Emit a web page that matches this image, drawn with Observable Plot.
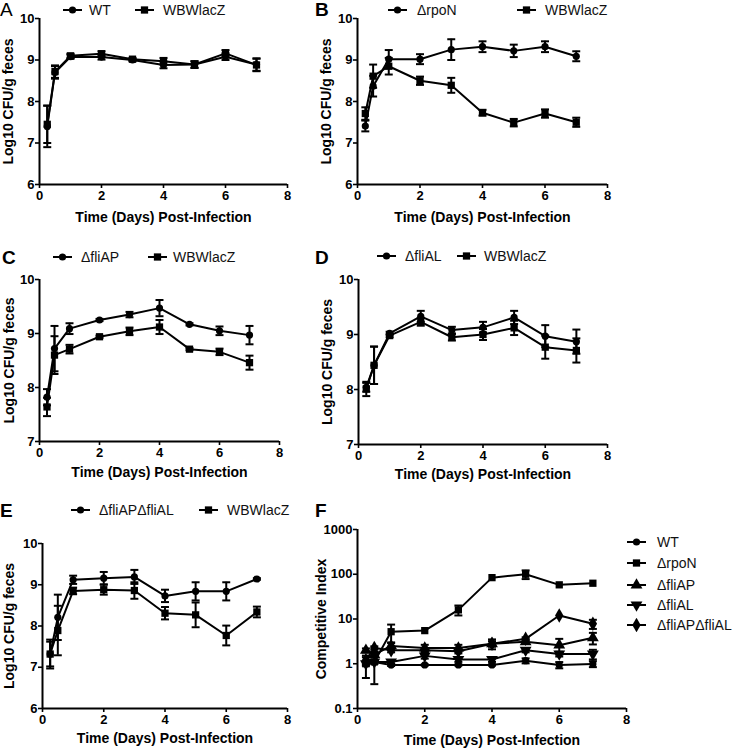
<!DOCTYPE html>
<html><head><meta charset="utf-8">
<script src="https://cdn.jsdelivr.net/npm/d3@7"></script>
<script src="https://cdn.jsdelivr.net/npm/@observablehq/plot@0.6"></script>
<style>
body{margin:0;background:#fff;}
#fig{position:relative;width:733px;height:751px;font-family:"Liberation Sans",Arial,sans-serif;color:#000;overflow:hidden;}
.pn{position:absolute;}
.letter{position:absolute;font-weight:bold;font-size:19px;line-height:19px;}
.legtxt{position:absolute;font-size:14px;height:16px;display:flex;align-items:center;white-space:nowrap;color:#111;}
.legsw{position:absolute;}
</style></head><body><div id="fig"></div>
<script>
// ---------- data ----------
const days = [0.25, 0.5, 1, 2, 3, 4, 5, 6, 7];
const xTicks = [0, 2, 4, 6, 8];
const xTitle = "Time (Days) Post-Infection";
const yTitleCFU = "Log10 CFU/g feces";
const yTitleCI = "Competitive Index";

// Panel A
const aWT      = [7.40, 8.70, 9.08, 9.07, 9.00, 8.88, 8.89, 9.08, 8.89];
const aWTerr   = [0.50, 0.15, 0.05, 0.06, 0.03, 0.08, 0.08, 0.08, 0.15];
const aLacZ    = [7.45, 8.72, 9.10, 9.15, 9.02, 8.97, 8.89, 9.16, 8.88];
const aLacZerr = [0.45, 0.15, 0.05, 0.06, 0.03, 0.08, 0.08, 0.08, 0.15];
// Panel B
const bRpoN    = [7.41, 8.37, 9.02, 9.02, 9.25, 9.32, 9.22, 9.32, 9.09];
const bRpoNerr = [0.13, 0.25, 0.22, 0.12, 0.25, 0.13, 0.15, 0.13, 0.12];
const bLacZ    = [7.71, 8.61, 8.85, 8.50, 8.39, 7.73, 7.49, 7.71, 7.50];
const bLacZerr = [0.15, 0.28, 0.20, 0.10, 0.18, 0.07, 0.09, 0.10, 0.11];
// Panel C
const cFliAP    = [7.82, 8.72, 9.09, 9.25, 9.35, 9.47, 9.17, 9.05, 8.97];
const cFliAPerr = [0.15, 0.42, 0.10, 0.02, 0.05, 0.15, 0.02, 0.08, 0.17];
const cLacZ     = [7.64, 8.60, 8.71, 8.94, 9.04, 9.12, 8.71, 8.66, 8.46];
const cLacZerr  = [0.17, 0.35, 0.08, 0.02, 0.07, 0.13, 0.02, 0.06, 0.13];
// Panel D
const dFliAL    = [8.04, 8.44, 9.02, 9.33, 9.08, 9.13, 9.31, 8.97, 8.87];
const dFliALerr = [0.08, 0.34, 0.03, 0.10, 0.06, 0.10, 0.12, 0.20, 0.22];
const dLacZ     = [8.01, 8.44, 8.98, 9.23, 8.95, 9.00, 9.12, 8.77, 8.71];
const dLacZerr  = [0.13, 0.34, 0.03, 0.07, 0.06, 0.10, 0.13, 0.21, 0.22];
// Panel E
const eDbl     = [7.32, 8.21, 9.12, 9.16, 9.19, 8.73, 8.84, 8.84, 9.14];
const eDblerr  = [0.35, 0.55, 0.10, 0.15, 0.17, 0.15, 0.22, 0.22, 0.02];
const eLacZ    = [7.32, 7.89, 8.85, 8.88, 8.86, 8.31, 8.27, 7.77, 8.34];
const eLacZerr = [0.30, 0.60, 0.08, 0.12, 0.20, 0.15, 0.30, 0.24, 0.13];
// Panel F (competitive index, linear values)
const fWT       = [1.05, 1.10, 0.94, 0.94, 0.94, 0.94, 1.17, 0.94, 0.99];
const fWTerr    = [0.10, 0.10, 0.05, 0.03, 0.03, 0.03, 0.15, 0.15, 0.15];
const fRpoN     = [1.00, 1.10, 5.2, 5.5, 16, 84, 100, 58, 63];
const fRpoNerr  = [0.52, 0.75, 2.3, 0, 4, 0, 22, 0, 0];
const fFliAP    = [2.0, 1.6, 2.5, 2.25, 2.25, 2.8, 3.1, 2.6, 3.8];
const fFliAPerr = [0.2, 0.2, 0.5, 0.4, 0.4, 0.7, 0.3, 1.0, 1.1];
const fFliAL    = [1.0, 1.1, 1.1, 1.5, 1.25, 1.25, 2.0, 1.65, 1.65];
const fFliALerr = [0.1, 0.1, 0.1, 0.2, 0.15, 0.15, 0.2, 0.2, 0.4];
const fDbl      = [1.2, 2.25, 2.0, 2.0, 1.9, 2.8, 3.6, 12, 7.8];
const fDblerr   = [0.2, 0.2, 0.2, 0.2, 0.2, 0.4, 0.3, 0, 1.8];

// ---------- symbols ----------
const sqrt3 = Math.sqrt(3);
const invTriangle = {draw(ctx, size) {
  const y = -Math.sqrt(size / (sqrt3 * 3));
  ctx.moveTo(0, -y * 2); ctx.lineTo(-sqrt3 * y, y); ctx.lineTo(sqrt3 * y, y); ctx.closePath();
}};
const capSym = {draw(ctx, size) {
  const w = Math.sqrt(size) / 2; ctx.moveTo(-w, 0); ctx.lineTo(w, 0);
}};
const SYM = {
  circle: {plot: "circle", d3: d3.symbolCircle, r: 3.6},
  square: {plot: "square", d3: d3.symbolSquare, r: 4.1},
  triangle: {plot: "triangle", d3: d3.symbolTriangle, r: 4.4},
  inv: {plot: invTriangle, d3: invTriangle, r: 4.4},
  diamond: {plot: "diamond", d3: d3.symbolDiamond, r: 4.4}
};

const fig = document.getElementById("fig");
const xDomain = [0, 8];

function panel(o) {
  const rows = o.series.flatMap(s => s.values.map((v, i) => ({name: s.name, x: days[i], y: v, err: s.err[i]})));
  const errRows = rows.filter(d => d.err > 0);
  const caps = errRows.flatMap(d => [{x: d.x, y: d.y - d.err}, {x: d.x, y: d.y + d.err}]);
  const marks = [
    Plot.ruleX([xDomain[0]], {y1: o.yDomain[0], y2: o.yDomain[1], strokeWidth: 2}),
    Plot.ruleY([o.yDomain[0]], {x1: xDomain[0], x2: xDomain[1], strokeWidth: 2}),
    Plot.axisX({ticks: xTicks, tickSize: 4, tickPadding: 2, label: null, strokeWidth: 1.6}),
    Plot.axisY({ticks: o.yTicks, tickSize: 4, tickPadding: 1, label: null, strokeWidth: 1.6, tickFormat: d => String(d)}),
    Plot.text([xTitle], {frameAnchor: "bottom", text: d => d, dy: o.xdy, fontSize: 14, textAnchor: "middle", lineAnchor: "middle"}),
    Plot.text([o.yTitle], {frameAnchor: "left", text: d => d, dx: o.ydx, rotate: -90, fontSize: 14, textAnchor: "middle", lineAnchor: "middle"}),
    Plot.line(rows, {x: "x", y: "y", z: "name", stroke: "black", strokeWidth: 2}),
    Plot.ruleX(errRows, {x: "x", y1: d => d.y - d.err, y2: d => d.y + d.err, strokeWidth: 2}),
    Plot.dot(caps, {x: "x", y: "y", symbol: capSym, r: 4.5, stroke: "black", strokeWidth: 2, fill: "none"}),
    ...o.series.map(s => Plot.dot(rows.filter(d => d.name === s.name),
      {x: "x", y: "y", symbol: SYM[s.sym].plot, r: SYM[s.sym].r, fill: "black", stroke: "none"}))
  ];
  const svg = Plot.plot({
    width: o.width, height: o.height,
    marginLeft: o.mL, marginRight: o.mR, marginTop: o.mT, marginBottom: o.mB,
    x: {domain: xDomain},
    y: {type: o.yType || "linear", domain: o.yDomain},
    style: {fontFamily: '"Liberation Sans", Arial, sans-serif', fontSize: "13px", fontWeight: "bold", color: "black", background: "transparent", overflow: "visible"},
    marks
  });
  const wrap = document.createElement("div");
  wrap.className = "pn";
  wrap.style.left = o.left + "px"; wrap.style.top = o.top + "px";
  wrap.appendChild(svg);
  fig.appendChild(wrap);

  const L = document.createElement("div");
  L.className = "letter"; L.textContent = o.letter;
  L.style.left = o.lx + "px"; L.style.top = o.ly + "px";
  if (o.letterNormal) L.style.fontWeight = "normal";
  fig.appendChild(L);

  o.legend.forEach(g => {
    const s = o.series[g.idx];
    addLegend(g.lx, g.tx, g.y, s.sym, s.name);
  });
}

function addLegend(lx, tx, cy, sym, label) {
  const ns = "http://www.w3.org/2000/svg";
  const sv = document.createElementNS(ns, "svg");
  sv.setAttribute("width", 19); sv.setAttribute("height", 14);
  sv.setAttribute("class", "legsw");
  sv.style.left = lx + "px"; sv.style.top = (cy - 7) + "px";
  const ln = document.createElementNS(ns, "line");
  ln.setAttribute("x1", 0); ln.setAttribute("x2", 19); ln.setAttribute("y1", 7); ln.setAttribute("y2", 7);
  ln.setAttribute("stroke", "black"); ln.setAttribute("stroke-width", 2);
  sv.appendChild(ln);
  const p = document.createElementNS(ns, "path");
  const r = SYM[sym].r;
  p.setAttribute("d", d3.symbol(SYM[sym].d3, Math.PI * r * r)());
  p.setAttribute("transform", "translate(9.5,7)");
  sv.appendChild(p);
  fig.appendChild(sv);
  const t = document.createElement("div");
  t.className = "legtxt"; t.textContent = label;
  t.style.left = tx + "px"; t.style.top = (cy - 8) + "px";
  fig.appendChild(t);
}

// ---------- panels ----------
panel({letter: "A", letterNormal: true, lx: 0, ly: 0,
  left: 0, top: 0, width: 310, height: 240, mL: 39, mR: 23, mT: 18, mB: 56,
  yDomain: [6, 10], yTicks: [6, 7, 8, 9, 10], yTitle: yTitleCFU, xdy: 33, ydx: -31,
  series: [{name: "WT", values: aWT, err: aWTerr, sym: "circle"},
           {name: "WBWlacZ", values: aLacZ, err: aLacZerr, sym: "square"}],
  legend: [{idx: 0, lx: 63, tx: 89, y: 10}, {idx: 1, lx: 135, tx: 163, y: 10}]});

panel({letter: "B", lx: 315, ly: 0,
  left: 310, top: 0, width: 423, height: 240, mL: 47, mR: 126, mT: 18, mB: 56,
  yDomain: [6, 10], yTicks: [6, 7, 8, 9, 10], yTitle: yTitleCFU, xdy: 33, ydx: -31,
  series: [{name: "ΔrpoN", values: bRpoN, err: bRpoNerr, sym: "circle"},
           {name: "WBWlacZ", values: bLacZ, err: bLacZerr, sym: "square"}],
  legend: [{idx: 0, lx: 388, tx: 417, y: 10}, {idx: 1, lx: 517, tx: 545, y: 10}]});

panel({letter: "C", lx: 2, ly: 248,
  left: 0, top: 245, width: 310, height: 245, mL: 39, mR: 31, mT: 34, mB: 49,
  yDomain: [7, 10], yTicks: [7, 8, 9, 10], yTitle: yTitleCFU, xdy: 31, ydx: -30,
  series: [{name: "ΔfliAP", values: cFliAP, err: cFliAPerr, sym: "circle"},
           {name: "WBWlacZ", values: cLacZ, err: cLacZerr, sym: "square"}],
  legend: [{idx: 0, lx: 53, tx: 81, y: 257}, {idx: 1, lx: 148, tx: 173, y: 257}]});

panel({letter: "D", lx: 315, ly: 248,
  left: 310, top: 245, width: 423, height: 245, mL: 48, mR: 126, mT: 34, mB: 46,
  yDomain: [7, 10], yTicks: [7, 8, 9, 10], yTitle: yTitleCFU, xdy: 30, ydx: -31,
  series: [{name: "ΔfliAL", values: dFliAL, err: dFliALerr, sym: "circle"},
           {name: "WBWlacZ", values: dLacZ, err: dLacZerr, sym: "square"}],
  legend: [{idx: 0, lx: 377, tx: 405, y: 256}, {idx: 1, lx: 457, tx: 484, y: 256}]});

panel({letter: "E", lx: 0, ly: 501,
  left: 0, top: 490, width: 310, height: 261, mL: 42, mR: 23, mT: 53, mB: 43,
  yDomain: [6, 10], yTicks: [6, 7, 8, 9, 10], yTitle: yTitleCFU, xdy: 30, ydx: -33,
  series: [{name: "ΔfliAPΔfliAL", values: eDbl, err: eDblerr, sym: "circle"},
           {name: "WBWlacZ", values: eLacZ, err: eLacZerr, sym: "square"}],
  legend: [{idx: 0, lx: 71, tx: 99, y: 510}, {idx: 1, lx: 199, tx: 227, y: 510}]});

panel({letter: "F", lx: 315, ly: 501,
  left: 310, top: 490, width: 423, height: 261, mL: 47, mR: 107, mT: 39, mB: 43,
  yType: "log", yDomain: [0.1, 1000], yTicks: [0.1, 1, 10, 100, 1000], yTitle: yTitleCI, xdy: 32, ydx: -36,
  series: [{name: "WT", values: fWT, err: fWTerr, sym: "circle"},
           {name: "ΔrpoN", values: fRpoN, err: fRpoNerr, sym: "square"},
           {name: "ΔfliAP", values: fFliAP, err: fFliAPerr, sym: "triangle"},
           {name: "ΔfliAL", values: fFliAL, err: fFliALerr, sym: "inv"},
           {name: "ΔfliAPΔfliAL", values: fDbl, err: fDblerr, sym: "diamond"}],
  legend: [{idx: 0, lx: 627, tx: 657, y: 542}, {idx: 1, lx: 627, tx: 657, y: 563},
           {idx: 2, lx: 627, tx: 657, y: 585}, {idx: 3, lx: 627, tx: 657, y: 605},
           {idx: 4, lx: 627, tx: 657, y: 625}]});
</script></body></html>
